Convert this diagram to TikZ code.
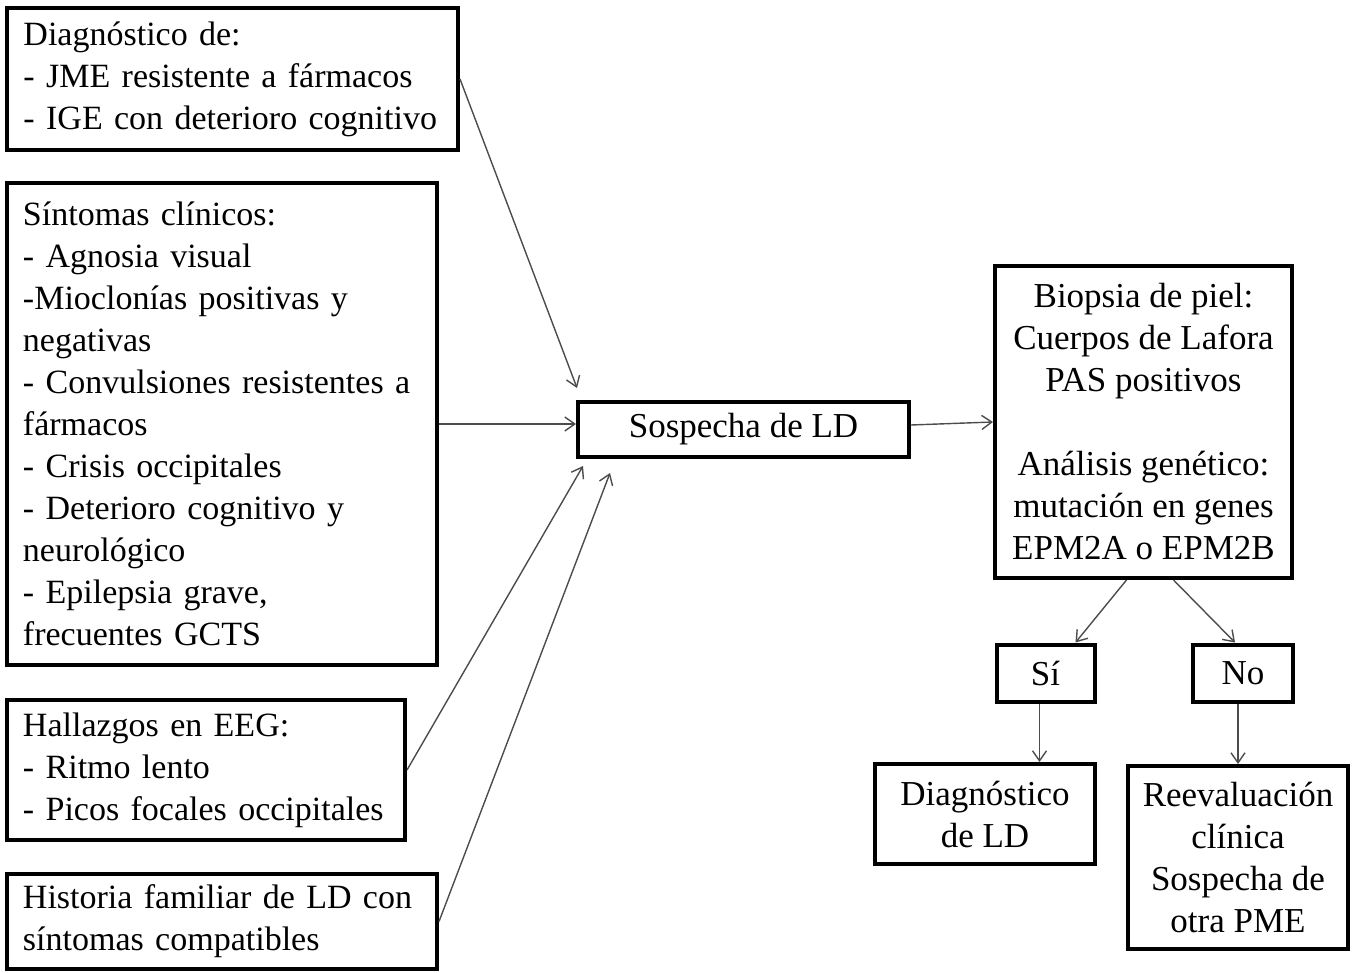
\documentclass[tikz,border=0pt]{standalone}
\usepackage{fontspec}
\setmainfont{Liberation Serif}
\usetikzlibrary{arrows.meta,positioning}

\begin{document}
\begin{tikzpicture}[x=0.5pt, y=-0.5pt, >={Straight Barb[length=5pt,width=7pt]},
		box/.style={draw, line width=2pt, inner sep=0pt},
		leftbox/.style={box, align=left, font=\fontsize{17}{21}\selectfont},
		midbox/.style={box, align=center, font=\fontsize{17.5}{21}\selectfont},
		conn/.style={->, color=black!70, line width=0.7pt}]
		\useasboundingbox (0,0) rectangle (1355,973);
		% left column
		\node[leftbox, minimum width=225.5pt, minimum height=71pt, text width=209pt](diag) at (232.5,79)
		{Diagnóstico de:\\- JME resistente a fármacos\\- IGE con deterioro cognitivo};
		\node[leftbox, minimum width=215pt, minimum height=241pt, text width=199pt](sint) at (222,424)
		{Síntomas clínicos:\\- Agnosia visual\\-Mioclonías positivas y\\negativas\\- Convulsiones resistentes a\\fármacos\\- Crisis occipitales\\- Deterioro cognitivo y\\neurológico\\- Epilepsia grave,\\frecuentes GCTS};
		\node[leftbox, minimum width=199pt, minimum height=70pt, text width=183pt](eeg) at (206,770)
		{Hallazgos en EEG:\\- Ritmo lento\\- Picos focales occipitales};
		\node[leftbox, minimum width=215pt, minimum height=47.5pt, text width=199pt](hist) at (222,921.5)
		{Historia familiar de LD con\\síntomas compatibles};
		% middle and right
		\node[midbox, minimum width=165.5pt, minimum height=27.5pt](sosp) at (743.5,429.5) {Sospecha de LD};
		\node[midbox, minimum width=148.5pt, minimum height=156pt](biop) at (1143.5,422)
		{Biopsia de piel:\\Cuerpos de Lafora\\PAS positivos\\[21pt]Análisis genético:\\mutación en genes\\EPM2A o EPM2B};
		\node[midbox, minimum width=49pt, minimum height=28.5pt](sibox) at (1045.5,673) {Sí};
		\node[midbox, minimum width=50pt, minimum height=28.5pt](nobox) at (1243,673) {No};
		\node[midbox, minimum width=110pt, minimum height=50pt](dxld) at (985,814) {Diagnóstico\\de LD};
		\node[midbox, minimum width=110pt, minimum height=91.5pt](reev) at (1238,857.5)
		{Reevaluación\\clínica\\Sospecha de\\otra PME};
		% connectors
		\path[conn] (diag.east) edge ([xshift=0.5pt,yshift=6pt]sosp.north west)
		(sint.east |- 0,424) edge (sosp.west |- 0,424)
		(eeg.east) edge ([xshift=3.5pt,yshift=-3.5pt]sosp.south west)
		(hist.east) edge ([xshift=17pt,yshift=-7pt]sosp.south west)
		(sosp.east |- 0,425) edge (biop.west |- 0,422)
		([xshift=-8.5pt]biop.south) edge ([xshift=15pt]sibox.north)
		([xshift=15pt]biop.south) edge ([xshift=-4pt]nobox.north)
		([xshift=-3pt]sibox.south) edge ([xshift=-3pt]sibox.south |- dxld.north)
		([xshift=-2.5pt]nobox.south) edge ([xshift=-2.5pt]nobox.south |- reev.north)
		;
	\end{tikzpicture}
\end{document}
